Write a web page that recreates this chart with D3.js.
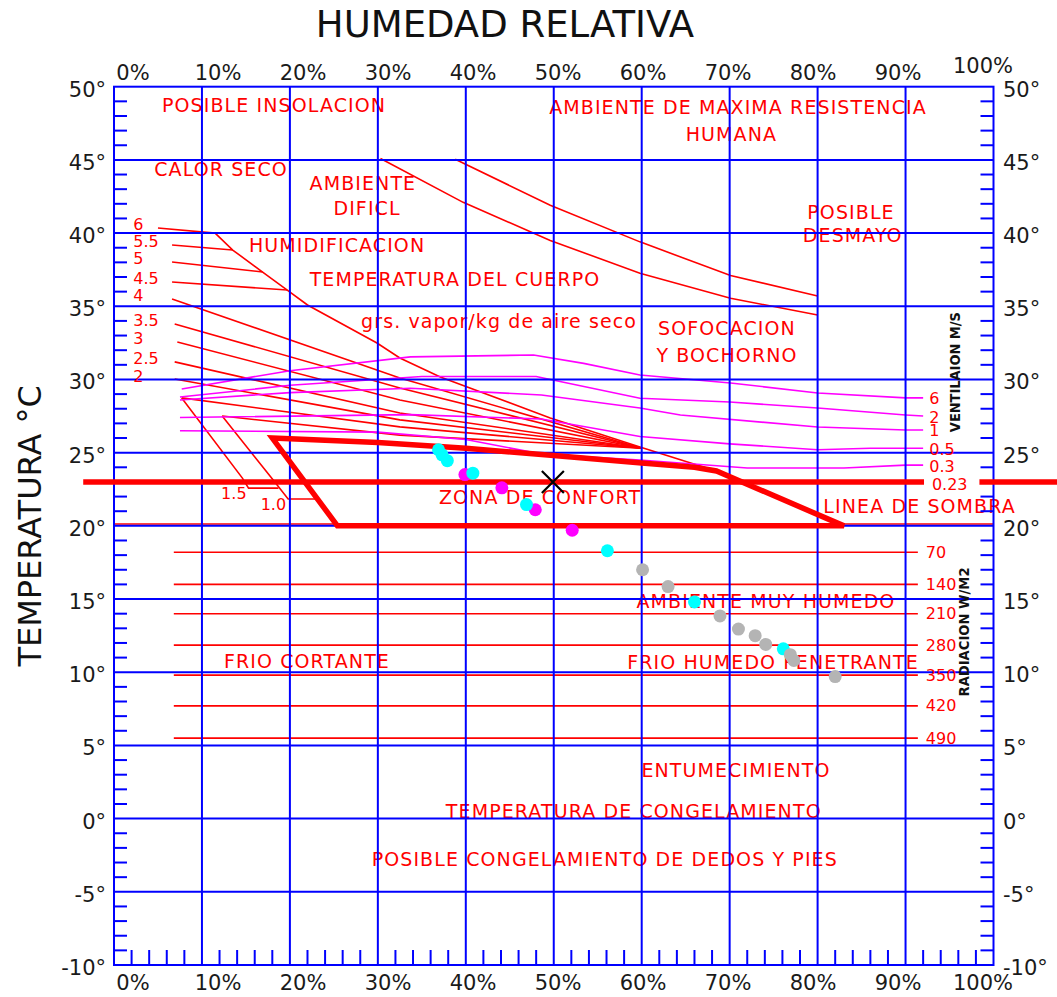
<!DOCTYPE html>
<meta charset="utf-8">
<script src="https://cdn.jsdelivr.net/npm/d3@7"></script>
<style>
body{margin:0;background:#fff;}
svg text{font-family:"DejaVu Sans",Verdana,sans-serif;}
</style>
<body>
<div id="chart"></div>
<script>
// axis ticks
var rhTicks=[0,10,20,30,40,50,60,70,80,90,100];
var tempTicks=[-10,-5,0,5,10,15,20,25,30,35,40,45,50];

// grs vapor / kg aire seco  (points are [humedad %, temperatura])
var vaporLabels=["6","5.5","5","4.5","4","3.5","3","2.5","2"];
var vaporLines=[
  [[5.0,40.35],[11.5,40.0]],
  [[6.6,39.19],[13.5,38.84]],
  [[6.6,38.03],[16.9,37.34]],
  [[6.6,36.66],[19.7,36.11]],
  [[6.6,35.5],[32.5,30.1],[60,25.3]],
  [[6.9,33.79],[32.5,29.42],[60,25.3]],
  [[7.2,32.56],[32.5,28.6],[60,25.3]],
  [[6.9,31.2],[32.5,27.71],[60,25.3]],
  [[6.9,30.03],[32.5,27.24],[60,25.3]]
];
var wetLabels=["1.5","1.0"];
var wetLines=[
  [[7.7,28.74],[32.5,26.76],[60,25.3]],
  [[12.3,27.5],[32.5,26.2],[60,25.3]]
];
var wetHooks=[
  [[7.7,28.74],[14.6,23.26],[15.3,22.58],[18.7,22.58]],
  [[12.3,27.5],[18.1,23.13],[19.8,21.83],[23.1,21.83]]
];
// limite de humidificacion
var diagLine=[[11.5,40.0],[13.5,38.84],[16.9,37.34],[19.7,36.11],[22.0,35.09],[29.9,32.49],
  [32.5,31.47],[37.1,30.17],[49.6,27.37],[59.8,25.39],[68.1,23.82]];
// ambiente dificil
var hardLines=[
  [[30.3,45.1],[39.7,42.1],[49.6,39.5],[59.8,37.25],[70.1,35.55],[80,34.4]],
  [[38.8,45.05],[49.6,41.9],[59.8,39.4],[70.1,37.1],[80,35.7]]
];

// ventilacion m/s
var ventLabels=["6","2","1","0.5","0.3"];
var ventLines=[
  [[7.7,29.35],[20,30.6],[33.7,31.54],[47.7,31.67],[53.4,31.1],[59.8,30.3],[70.1,29.76],[80,29.08],[90,28.74],[92,28.74]],
  [[7.5,28.8],[20,29.6],[35,30.2],[48,30.2],[59.8,28.72],[70,28.46],[80,28.05],[90,27.57],[92,27.5]],
  [[7.5,28.6],[20,29.1],[33.7,29.4],[48.6,28.94],[59.8,28.05],[64.4,27.57],[80,26.75],[90,26.55],[92,26.55]],
  [[7.5,27.4],[33.7,27.6],[48.6,27.3],[59.8,26.1],[70,25.6],[80,25.2],[86,25.3],[92,25.3]],
  [[7.5,26.5],[30,26.4],[40,25.9],[48.6,24.9],[59.8,24.5],[72,23.95],[83,23.95],[90,24.15],[92,24.15]]
];

// radiacion W/m2
var radLabels=["70","140","210","280","350","420","490"];
var radTemps=[18.2,16.0,14.0,11.85,9.8,7.7,5.5];

var comfortZone=[[18,26.0],[30,25.7],[40,25.3],[50,24.8],[60,24.3],[66,24.0],[68.5,23.75],[83,20],[25.4,20]];
var shadeTemp=20, refTemp=23;

var cyanPts=[[36.9,25.2],[37.3,24.85],[37.9,24.45],[40.8,23.6],[46.9,21.45],[56.1,18.3],[66.0,14.8],[76.1,11.6]];
var magentaPts=[[39.9,23.5],[44.1,22.6],[47.9,21.1],[52.1,19.7]];
var grayPts=[[60.1,17.0],[63.0,15.85],[68.9,13.85],[71.0,12.95],[72.9,12.5],[74.1,11.9],[76.9,11.2],[77.3,10.8],[82.0,9.7]];
var markPt=[49.9,23.0];

var zoneLabels=[
  {t:"POSIBLE INSOLACION",rh:18.2,c:48.75},
  {t:"AMBIENTE DE MAXIMA RESISTENCIA",rh:70.95,c:48.6},
  {t:"HUMANA",rh:70.2,c:46.77},
  {t:"CALOR SECO",rh:12.17,c:44.38},
  {t:"AMBIENTE",rh:28.3,c:43.42},
  {t:"DIFICL",rh:28.77,c:41.71},
  {t:"HUMIDIFICACION",rh:25.36,c:39.19},
  {t:"TEMPERATURA DEL CUERPO",rh:38.77,c:36.86},
  {t:"grs. vapor/kg de aire seco",rh:43.78,c:34.0},
  {t:"POSIBLE",rh:83.8,c:41.44},
  {t:"DESMAYO",rh:84.0,c:39.87},
  {t:"SOFOCACION",rh:69.7,c:33.52},
  {t:"Y BOCHORNO",rh:69.7,c:31.67},
  {t:"ZONA DE CONFORT",rh:48.44,c:21.97},
  {t:"LINEA DE SOMBRA",rh:91.6,c:21.36},
  {t:"AMBIENTE MUY HUMEDO",rh:74.13,c:14.87},
  {t:"FRIO CORTANTE",rh:21.94,c:10.77},
  {t:"FRIO HUMEDO PENETRANTE",rh:74.93,c:10.7},
  {t:"ENTUMECIMIENTO",rh:70.72,c:3.33},
  {t:"TEMPERATURA DE CONGELAMIENTO",rh:59.1,c:0.53},
  {t:"POSIBLE CONGELAMIENTO DE DEDOS Y PIES",rh:55.8,c:-2.75}
];

var W=1057,H=997;
var RED="#ff0000",BLUE="#0000ff",PINK="#ff00ff";
var x=d3.scaleLinear().domain([0,100]).range([114,993.5]);
var y=d3.scaleLinear().domain([-10,50]).range([965,86.7]);
// the % labels sit on a slightly narrower band than the grid
var xl=d3.scaleLinear().domain([0,100]).range([133,983]);
var line=d3.line().x(function(d){return x(d[0]);}).y(function(d){return y(d[1]);});

var svg=d3.select("#chart").append("svg").attr("width",W).attr("height",H);
svg.append("rect").attr("width",W).attr("height",H).attr("fill","#fff");

// thin red lines
var thin=svg.append("g").attr("fill","none").attr("stroke",RED).attr("stroke-width",1.6);
thin.selectAll("line.rad").data(radTemps).enter().append("line").attr("class","rad")
  .attr("x1",x(6.8)).attr("x2",x(91.4))
  .attr("y1",function(d){return y(d);}).attr("y2",function(d){return y(d);});
thin.append("line").attr("x1",x(0)).attr("x2",x(100))
  .attr("y1",y(shadeTemp)-1.8).attr("y2",y(shadeTemp)-1.8);
thin.selectAll("path.vap").data(vaporLines.concat(wetLines,wetHooks,hardLines,[diagLine])).enter()
  .append("path").attr("d",line);

// ventilation lines
svg.append("g").attr("fill","none").attr("stroke",PINK).attr("stroke-width",1.6)
  .selectAll("path").data(ventLines).enter().append("path").attr("d",line);

// zone labels
svg.append("g").attr("fill",RED).attr("font-size",19).attr("letter-spacing",1.1)
  .selectAll("text").data(zoneLabels).enter().append("text")
  .attr("x",function(d){return x(d.rh);}).attr("y",function(d){return y(d.c);})
  .attr("text-anchor","middle").attr("dominant-baseline","central")
  .text(function(d){return d.t;});

// grid
var grid=svg.append("g").attr("stroke",BLUE).attr("stroke-width",2);
grid.selectAll("line.v").data(rhTicks.slice(1,-1)).enter().append("line")
  .attr("x1",function(d){return x(d);}).attr("x2",function(d){return x(d);})
  .attr("y1",y(50)).attr("y2",y(-10));
grid.selectAll("line.h").data(tempTicks.slice(1,-1)).enter().append("line")
  .attr("y1",function(d){return y(d);}).attr("y2",function(d){return y(d);})
  .attr("x1",x(0)).attr("x2",x(100));
grid.append("rect").attr("x",x(0)).attr("y",y(50)).attr("width",x(100)-x(0)).attr("height",y(-10)-y(50)).attr("fill","none");
var minorT=d3.range(-9,50).filter(function(d){return d%5!==0;});
var minorH=d3.range(2,100,2).filter(function(d){return d%10!==0;});
grid.selectAll("line.tl").data(minorT).enter().append("line")
  .attr("x1",x(0)).attr("x2",x(0)+13).attr("y1",function(d){return y(d);}).attr("y2",function(d){return y(d);});
grid.selectAll("line.tr").data(minorT).enter().append("line")
  .attr("x1",x(100)).attr("x2",x(100)-13).attr("y1",function(d){return y(d);}).attr("y2",function(d){return y(d);});
grid.selectAll("line.tb").data(minorH).enter().append("line")
  .attr("x1",function(d){return x(d);}).attr("x2",function(d){return x(d);})
  .attr("y1",y(-10)).attr("y2",y(-10)-15);

// thick lines: comfort zone and 23 deg line
var thick=svg.append("g").attr("fill","none").attr("stroke",RED).attr("stroke-width",5.5).attr("stroke-linejoin","miter");
thick.append("path").attr("d",line(comfortZone)+"Z");
thick.append("line").attr("x1",x(-3.5)).attr("x2",x(92.1)).attr("y1",y(refTemp)).attr("y2",y(refTemp));
thick.append("line").attr("x1",x(98.4)).attr("x2",W).attr("y1",y(refTemp)).attr("y2",y(refTemp));

// points
function dots(data,color){
  svg.append("g").attr("fill",color).selectAll("circle").data(data).enter().append("circle")
    .attr("cx",function(d){return x(d[0]);}).attr("cy",function(d){return y(d[1]);}).attr("r",6.5);
}
dots(magentaPts,PINK);
dots(cyanPts,"#00ffff");
dots(grayPts,"#b4b4b4");
var mx=x(markPt[0]),my=y(markPt[1]);
svg.append("path").attr("d","M"+(mx-11)+","+(my-11)+"L"+(mx+11)+","+(my+11)+"M"+(mx+11)+","+(my-11)+"L"+(mx-11)+","+(my+11))
  .attr("stroke","#000").attr("stroke-width",2.2);

// small number labels
var small=svg.append("g").attr("fill",RED).attr("font-size",16).attr("dominant-baseline","central");
small.selectAll("text.vap").data(vaporLabels).enter().append("text")
  .attr("x",x(2.2)).attr("y",function(d,i){return y(vaporLines[i][0][1])-3;}).text(function(d){return d;});
small.selectAll("text.wet").data(wetLabels).enter().append("text").attr("text-anchor","end")
  .attr("x",function(d,i){return x(wetHooks[i][2][0])-2;}).attr("y",function(d,i){return y(wetHooks[i][2][1])+5;})
  .text(function(d){return d;});
small.selectAll("text.vent").data(ventLabels).enter().append("text")
  .attr("x",x(92.7)).attr("y",function(d,i){var l=ventLines[i];return y(l[l.length-1][1])+1;}).text(function(d){return d;});
small.append("text").attr("x",x(93.0)).attr("y",y(refTemp)+3).text("0.23");
small.selectAll("text.rad").data(radLabels).enter().append("text")
  .attr("x",x(92.3)).attr("y",function(d,i){return y(radTemps[i]);}).text(function(d){return d;});

// rotated side captions
svg.append("text").attr("transform","translate(955,"+y(30.5)+") rotate(-90)")
  .attr("text-anchor","middle").attr("dominant-baseline","central")
  .attr("font-size",14).attr("font-weight","bold").attr("fill","#111")
  .attr("textLength",120).attr("lengthAdjust","spacingAndGlyphs").text("VENTILAION M/S");
svg.append("text").attr("transform","translate(964,"+y(12.75)+") rotate(-90)")
  .attr("text-anchor","middle").attr("dominant-baseline","central")
  .attr("font-size",14).attr("font-weight","bold").attr("fill","#111")
  .attr("textLength",129).attr("lengthAdjust","spacingAndGlyphs").text("RADIACION W/M2");

// axis labels
var ax=svg.append("g").attr("fill","#1a1a1a").attr("font-size",21).attr("dominant-baseline","central");
ax.selectAll("text.yl").data(tempTicks).enter().append("text").attr("text-anchor","end")
  .attr("x",106).attr("y",function(d){return y(d)+3;}).text(function(d){return d+"°";});
ax.selectAll("text.yr").data(tempTicks).enter().append("text").attr("text-anchor","start")
  .attr("x",1003).attr("y",function(d){return y(d)+3;}).text(function(d){return d+"°";});
ax.selectAll("text.xt").data(rhTicks).enter().append("text").attr("text-anchor","middle")
  .attr("x",function(d){return xl(d);}).attr("y",function(d){return d===100?66:73;})
  .text(function(d){return d+"%";});
ax.selectAll("text.xb").data(rhTicks).enter().append("text").attr("text-anchor","middle")
  .attr("x",function(d){return xl(d);}).attr("y",983)
  .text(function(d){return d+"%";});

svg.append("text").attr("x",505).attr("y",24).attr("text-anchor","middle").attr("dominant-baseline","central")
  .attr("font-size",37).attr("fill","#111").text("HUMEDAD RELATIVA");
svg.append("text").attr("transform","translate(30,"+y(20)+") rotate(-90)")
  .attr("text-anchor","middle").attr("dominant-baseline","central")
  .attr("font-size",32).attr("fill","#111").text("TEMPERATURA °C");
</script>
</body>
</html>
